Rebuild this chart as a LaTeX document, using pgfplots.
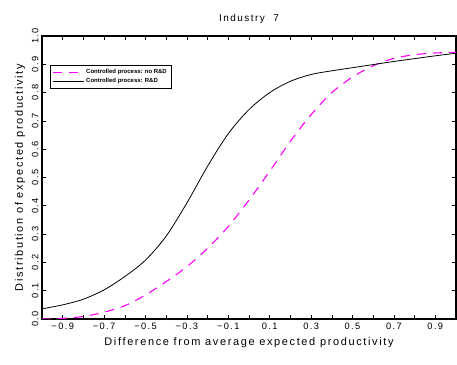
\documentclass[border=0pt]{standalone}
\usepackage{pgfplots}
\pgfplotsset{compat=1.18}
\usepackage{fontspec}
\setmainfont[LetterSpace=15]{Liberation Sans}
\newfontfamily\legfont{Liberation Sans}
\begin{document}
\begin{tikzpicture}[x=1bp,y=1bp]
\begin{axis}[
  scale only axis,
  width=414bp, height=283bp,
  xmin=-1, xmax=1, ymin=0, ymax=1,
  axis line style={line width=1.4bp},
  tick style={black, line width=0.6bp},
  major tick length=4bp, minor tick length=4bp,
  tick align=inside,
  xtick={-0.9,-0.7,-0.5,-0.3,-0.1,0.1,0.3,0.5,0.7,0.9},
  xticklabels={−0.9,−0.7,−0.5,−0.3,−0.1,0.1,0.3,0.5,0.7,0.9},
  minor xtick={-0.8,-0.6,-0.4,-0.2,0,0.2,0.4,0.6,0.8},
  ytick={0,0.1,0.2,0.3,0.4,0.5,0.6,0.7,0.8,0.9,1},
  yticklabels={0.0,0.1,0.2,0.3,0.4,0.5,0.6,0.7,0.8,0.9,1.0},
  yticklabel style={rotate=90, anchor=south},
  ticklabel style={font=\fontsize{9.3}{10}\selectfont},
  xticklabel style={yshift=-1bp},
  title={Industry\ \ 7},
  title style={font=\fontsize{10}{11}\selectfont, yshift=3bp},
  xlabel={Difference from average expected productivity},
  ylabel={Distribution of expected productivity},
  label style={font=\fontsize{11}{12}\selectfont},
  xlabel style={yshift=-1bp},
  legend style={at={(0.019,0.897)}, anchor=north west, draw=black, line width=0.5bp,
    font=\legfont\fontsize{6}{6.5}\selectfont\bfseries, inner sep=2bp, row sep=-1bp,
    legend cell align=left},
  legend image code/.code={\draw[#1] (0bp,0bp) -- (31bp,0bp);},
]
\addplot[color={rgb,255:red,255;green,0;blue,255}, line width=1.1bp, dash pattern=on 9bp off 7bp, smooth] coordinates {
(-1,0.0) (-0.9,0.002) (-0.8,0.009) (-0.7,0.024) (-0.6,0.047) (-0.5,0.085)
(-0.4,0.132) (-0.3,0.185) (-0.2,0.25) (-0.1,0.327) (0,0.42) (0.1,0.522)
(0.2,0.628) (0.3,0.722) (0.4,0.80) (0.5,0.855) (0.6,0.895) (0.7,0.921)
(0.8,0.934) (0.9,0.94) (1.0,0.942)};
\addlegendentry{Controlled process: no R\&D}
\addplot[black, line width=0.8bp, smooth] coordinates {
(-1,0.036) (-0.9,0.05) (-0.8,0.07) (-0.7,0.103) (-0.6,0.15) (-0.5,0.208)
(-0.4,0.293) (-0.3,0.41) (-0.2,0.54) (-0.1,0.655) (0,0.74) (0.1,0.80)
(0.2,0.84) (0.3,0.864) (0.4,0.877) (0.5,0.888) (0.6,0.899) (0.7,0.91)
(0.8,0.92) (0.9,0.93) (1.0,0.939)};
\addlegendentry{Controlled process: R\&D}
\end{axis}
\pgfresetboundingbox
\path (-42bp,-46bp) rectangle (415bp,319bp);
\end{tikzpicture}
\end{document}
